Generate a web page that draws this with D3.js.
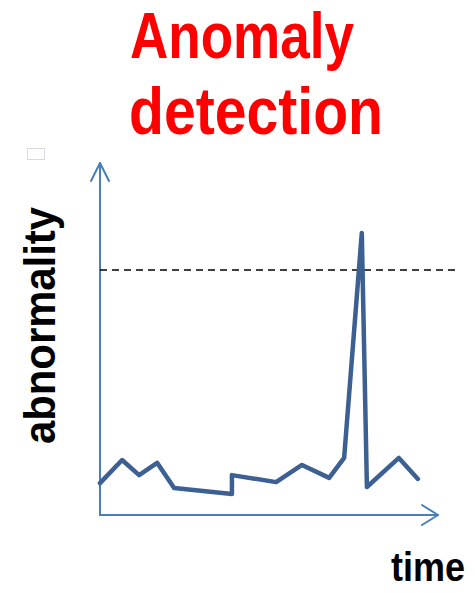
<!DOCTYPE html>
<html>
<head>
<meta charset="utf-8">
<script src="https://cdn.jsdelivr.net/npm/d3@7"></script>
<style>
  html, body { margin: 0; padding: 0; background: #fff; }
  svg { display: block; }
</style>
</head>
<body>
<svg id="chart" width="475" height="593"></svg>
<script>
// Series: abnormality score over time, with a single spike above the threshold
const times = [0, 6.5, 11.5, 16.8, 21.8, 38.8, 38.8, 51.8, 59.4, 67.4, 71.8, 77, 78.5, 87.9, 93.5];
const abnormality = [9.1, 15.7, 11.4, 14.9, 7.7, 6.0, 11.4, 9.4, 14.3, 10.6, 16.3, 80.6, 8.0, 16.3, 10.3];
const threshold = [70];
const titleLines = ["Anomaly", "detection"];
const yLabel = "abnormality";
const xLabel = "time";

const svg = d3.select("#chart");

const x = d3.scaleLinear().domain([0, 100]).range([100, 440]);
const y = d3.scaleLinear().domain([0, 100]).range([515, 165]);

const axisColor = "#4a7ebb";

// Title
const titleFont = "'Liberation Sans Narrow', 'Arial Narrow', 'Liberation Sans', sans-serif";
svg.append("text")
  .attr("x", 130).attr("y", 58)
  .attr("textLength", 224).attr("lengthAdjust", "spacingAndGlyphs")
  .style("font-family", titleFont).style("font-weight", "bold")
  .style("font-size", "64px").attr("fill", "#ff0000")
  .text(titleLines[0]);
svg.append("text")
  .attr("x", 129).attr("y", 134)
  .attr("textLength", 254).attr("lengthAdjust", "spacingAndGlyphs")
  .style("font-family", titleFont).style("font-weight", "bold")
  .style("font-size", "66px").attr("fill", "#ff0000")
  .text(titleLines[1]);

// Small thumbnail glyph at the top-left
svg.append("rect")
  .attr("x", 27.5).attr("y", 148.5).attr("width", 17).attr("height", 11)
  .attr("fill", "none").attr("stroke", "#d8d8e8").attr("stroke-width", 1);

// Axes with open arrowheads
const axes = svg.append("g").attr("stroke", axisColor).attr("stroke-width", 2)
  .attr("fill", "none").attr("stroke-linecap", "round").attr("stroke-linejoin", "round");
axes.append("line").attr("x1", x(0)).attr("y1", y(0)).attr("x2", x(0)).attr("y2", 163);
axes.append("path").attr("d", `M${x(0) - 9},181 L${x(0)},163 L${x(0) + 9},181`);
axes.append("line").attr("x1", x(0)).attr("y1", y(0)).attr("x2", 438).attr("y2", y(0));
axes.append("path").attr("d", `M422,${y(0) - 10} L438,${y(0)} L422,${y(0) + 10}`);

// Threshold
svg.append("line")
  .attr("x1", x(0)).attr("x2", 460)
  .attr("y1", y(threshold[0])).attr("y2", y(threshold[0]))
  .attr("stroke", "#000").attr("stroke-width", 1.6)
  .attr("stroke-dasharray", "7,5");

// Series line
const line = d3.line().x((d, i) => x(times[i])).y(d => y(d));
svg.append("path")
  .datum(abnormality)
  .attr("d", line)
  .attr("fill", "none")
  .attr("stroke", "#3b6091")
  .attr("stroke-width", 4.5)
  .attr("stroke-linejoin", "round")
  .attr("stroke-linecap", "round");

// Axis labels
svg.append("text")
  .attr("transform", "translate(55,444) rotate(-90)")
  .attr("textLength", 237).attr("lengthAdjust", "spacingAndGlyphs")
  .style("font-family", titleFont).style("font-weight", "bold")
  .style("font-size", "44px").attr("fill", "#000")
  .text(yLabel);
svg.append("text")
  .attr("x", 391).attr("y", 581)
  .attr("textLength", 74).attr("lengthAdjust", "spacingAndGlyphs")
  .style("font-family", titleFont).style("font-weight", "bold")
  .style("font-size", "40px").attr("fill", "#000")
  .text(xLabel);
</script>
</body>
</html>
